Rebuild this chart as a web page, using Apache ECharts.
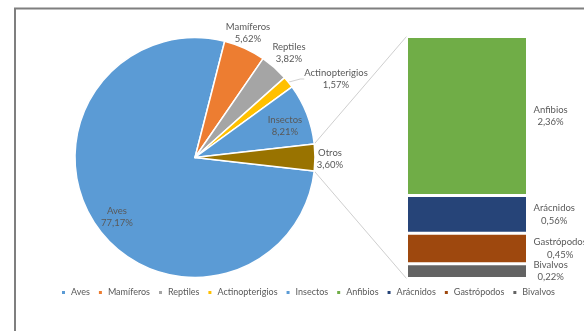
<!DOCTYPE html>
<html>
<head>
<meta charset="utf-8">
<title>Pie of bar</title>
<script src="https://cdn.jsdelivr.net/npm/echarts@6/dist/echarts.min.js"></script>
<style>
  html, body { margin: 0; padding: 0; background: #fff; }
  #main { width: 584px; height: 331px; }
</style>
</head>
<body>
<div id="main"></div>
<script>
// main pie
const pieNames = ['Aves', 'Mamíferos', 'Reptiles', 'Actinopterigios', 'Insectos', 'Otros'];
const pieValues = [77.17, 5.62, 3.82, 1.57, 8.21, 3.60];
// breakdown of "Otros", top to bottom
const barNames = ['Anfibios', 'Arácnidos', 'Gastrópodos', 'Bivalvos'];
const barValues = [2.36, 0.56, 0.45, 0.22];
// legend order (Otros is not listed)
const legendNames = ['Aves', 'Mamíferos', 'Reptiles', 'Actinopterigios', 'Insectos',
  'Anfibios', 'Arácnidos', 'Gastrópodos', 'Bivalvos'];

const pieColors = ['#5b9bd5', '#ed7d31', '#a5a5a5', '#ffc000', '#5b9bd5', '#997300'];
const barColors = ['#70ad47', '#264478', '#9e480e', '#636363'];

const font = 'Lato, "Liberation Sans", sans-serif';
const txt = '#595959';
const fmt = v => v.toFixed(2).replace('.', ',') + '%';

// layout
const cx = 195, cy = 157.5, r = 120;
const gridLeft = 406.5, gridTop = 36.5, gridW = 121, gridH = 242;

// where Excel put the pie labels (centre of the text block)
const pieLabelPos = {
  'Aves': [117, 217],
  'Mamíferos': [248, 33],
  'Reptiles': [289, 53],
  'Actinopterigios': [336, 79],
  'Insectos': [285, 126],
  'Otros': [330, 159]
};

const pieTotal = pieValues.reduce((a, b) => a + b, 0);
const barTotal = barValues.reduce((a, b) => a + b, 0);
// "Otros" is centred on the 3 o'clock direction
const startAngle = -pieValues[5] / pieTotal * 180;

const colorOf = {};
pieNames.forEach((n, i) => { colorOf[n] = pieColors[i]; });
barNames.forEach((n, i) => { colorOf[n] = barColors[i]; });

const chart = echarts.init(document.getElementById('main'));

const pieSeries = {
  type: 'pie',
  center: [cx, cy],
  radius: r,
  startAngle: startAngle,
  clockwise: true,
  avoidLabelOverlap: false,
  itemStyle: { borderColor: '#fff', borderWidth: 1.5 },
  label: {
    show: true,
    fontFamily: font,
    fontSize: 9.5,
    lineHeight: 12.5,
    color: txt,
    formatter: p => p.name + '\n' + fmt(p.value)
  },
  labelLine: { show: false },
  labelLayout: function (params) {
    const p = pieLabelPos[pieNames[params.dataIndex]];
    return { x: p[0], y: p[1], align: 'center', verticalAlign: 'middle' };
  },
  data: pieNames.map((n, i) => ({
    name: n,
    value: pieValues[i],
    itemStyle: { color: pieColors[i] },
    label: { position: (n === 'Aves' || n === 'Insectos') ? 'inside' : 'outside' },
    labelLine: n === 'Actinopterigios'
      ? { show: true, length: 4, length2: 4, lineStyle: { color: '#d0d0d0', width: 1 } }
      : { show: false }
  }))
};

// stacked bar, bottom segment first
const barSeries = [];
for (let i = barNames.length - 1; i >= 0; i--) {
  barSeries.push({
    type: 'bar',
    name: barNames[i],
    stack: 'otros',
    barWidth: '100%',
    itemStyle: { color: barColors[i], borderColor: '#fff', borderWidth: 1.5 },
    label: {
      show: true,
      position: 'right',
      distance: 6,
      fontFamily: font,
      fontSize: 9.5,
      lineHeight: 12.5,
      color: txt,
      formatter: p => p.seriesName + '\n' + fmt(p.value)
    },
    // keep the text block next to the bar, centre the two lines inside it
    labelLayout: function (params) {
      const b = params.labelRect;
      return {
        x: b.x + b.width / 2, y: b.y + b.height / 2,
        align: 'center', verticalAlign: 'middle'
      };
    },
    data: [barValues[i]]
  });
}

chart.setOption({
  animation: false,
  backgroundColor: '#fff',
  legend: {
    data: legendNames.map(n => ({ name: n, itemStyle: { color: colorOf[n] } })),
    left: 55,
    top: 283,
    width: 560,
    icon: 'rect',
    itemWidth: 5,
    itemHeight: 5,
    itemGap: 7,
    textStyle: { fontFamily: font, fontSize: 9, color: txt }
  },
  grid: { left: gridLeft, top: gridTop, width: gridW, height: gridH },
  xAxis: { type: 'category', data: ['Otros'], show: false },
  yAxis: { type: 'value', min: 0, max: barTotal, show: false },
  series: [pieSeries].concat(barSeries)
});

// connector lines from the "Otros" slice to the bar, plus the frame
const half = pieValues[5] / pieTotal * Math.PI;
const px = cx + r * Math.cos(half);
const yTop = chart.convertToPixel({ yAxisIndex: 0 }, barTotal);
const yBot = chart.convertToPixel({ yAxisIndex: 0 }, 0);
const lineStyle = { stroke: '#cfcfcf', lineWidth: 1 };

chart.setOption({
  graphic: [
    { type: 'rect', shape: { x: 15, y: 8.5, width: 700, height: 500 },
      style: { fill: null, stroke: '#7f7f7f', lineWidth: 2 }, silent: true },
    { type: 'line', shape: { x1: px, y1: cy - r * Math.sin(half), x2: gridLeft, y2: yTop },
      style: lineStyle, silent: true },
    { type: 'line', shape: { x1: px, y1: cy + r * Math.sin(half), x2: gridLeft, y2: yBot },
      style: lineStyle, silent: true }
  ]
});
</script>
</body>
</html>
